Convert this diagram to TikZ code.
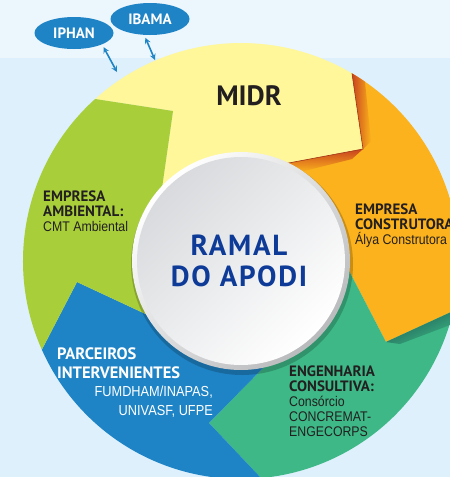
\documentclass[tikz,border=0pt]{standalone}
\usepackage{fontspec}
\setmainfont{Liberation Sans}[FakeStretch=0.88]
\newfontfamily\headfont{PT Sans}
\newfontfamily\hubfont{PT Sans}[LetterSpace=6]
\usepackage{tikz}
\usetikzlibrary{shapes.geometric}

\definecolor{midryellow}{HTML}{FFF799}
\definecolor{construtoraorange}{HTML}{FBB21C}
\definecolor{consultivagreen}{HTML}{3DB886}
\definecolor{parceirosblue}{HTML}{1F84C6}
\definecolor{ambientallime}{HTML}{A8CE3A}
\definecolor{skyband}{HTML}{EBF6FD}
\definecolor{skylow}{HTML}{DDF0FB}
\definecolor{apodiblue}{HTML}{0D3B97}
\definecolor{inktext}{HTML}{231F20}
\definecolor{foldred}{HTML}{C8431F}
\definecolor{folddark}{HTML}{1D5A52}
\definecolor{hubgray}{HTML}{D8DADD}
\definecolor{ringgray}{HTML}{B9BABC}

\tikzset{
  orgellipse/.style={ellipse, fill=parceirosblue, text=white, inner sep=0,
    minimum width=79, minimum height=32,
    font=\headfont\bfseries\fontsize{15}{15}\selectfont},
  biarrow/.style={<->, draw=parceirosblue, line width=1.6},
  segtext/.style={anchor=north west, inner sep=0, align=left, text=inktext,
    font=\fontsize{14}{15}\selectfont},
  segtitle/.style={font=\headfont\bfseries\fontsize{15}{15}\selectfont}
}

\begin{document}
\begin{tikzpicture}[x=1pt, y=-1pt, >=stealth]

      % Define ring parameters
      \def\R{218}
      \def\r{109}

      \useasboundingbox (0,0) rectangle (450,477);
      \clip (0,0) rectangle (450,477);

      % Draw the background
      \fill[skylow] (0,0) rectangle (450,477);
      \fill[skyband] (0,0) rectangle (450,58);

      % Corners of the five arrows
      \coordinate (O) at (241,261);
      \coordinate (Lo) at ([shift={(-132:\R)}]O);
      \coordinate (Yo) at ([shift={(-59.4:\R)}]O);
      \coordinate (Oo) at ([shift={(13.3:\R)}]O);
      \coordinate (To) at ([shift={(84.7:\R)}]O);
      \coordinate (Bo) at ([shift={(156:\R)}]O);
      \coordinate (Lt) at (173,111);
      \coordinate (Li) at (161,195);
      \coordinate (Yt) at (363,149);
      \coordinate (Yi) at (278,165);
      \coordinate (Ot) at (386,342);
      \coordinate (Oi) at (345,263);
      \coordinate (Tt) at (209,423);
      \coordinate (Ti) at (267,364);
      \coordinate (Bt) at (77,282);
      \coordinate (Bi) at (152,317);

      % Draw the arrows
      \fill[midryellow] (Li) -- (Lt) -- (Lo) arc[start angle=-132, end angle=-59.4, radius=\R] -- (Yt) -- (Yi) -- (O) -- cycle;
      \fill[construtoraorange] (Yi) -- (Yt) -- (Yo) arc[start angle=-59.4, end angle=13.3, radius=\R] -- (Ot) -- (Oi) -- (O) -- cycle;
      \fill[consultivagreen] (Oi) -- (Ot) -- (Oo) arc[start angle=13.3, end angle=84.7, radius=\R] -- (Tt) -- (Ti) -- (O) -- cycle;
      \fill[parceirosblue] (Ti) -- (Tt) -- (To) arc[start angle=84.7, end angle=156, radius=\R] -- (Bt) -- (Bi) -- (O) -- cycle;
      \fill[ambientallime] (Bi) -- (Bt) -- (Bo) arc[start angle=156, end angle=228, radius=\R] -- (Lt) -- (Li) -- (O) -- cycle;

      % Fold shadows under the tips
      \begin{scope}
        \clip (O) circle[radius=\R];
        \shade[left color=foldred, right color=construtoraorange] (Yo) -- (Yt) -- (371,141) -- (364,72) -- cycle;
        \shade[top color=foldred, bottom color=construtoraorange] (Yt) -- (Yi) -- (300,172) -- (352,159) -- cycle;
        \draw[foldred!80!black, line width=0.6] (Yo) -- (Yt) -- (Yi);
        \shade[top color=folddark, bottom color=consultivagreen, shading angle=25] (Ot) -- (Oo) -- (458,322) -- (400,344) -- cycle;
      \end{scope}

      % Draw the hub
      \fill[black, opacity=0.2] (242,264) circle[radius=111];
      \shade[top color=white, bottom color=ringgray, shading angle=45] (O) circle[radius=\r];
      \shade[top color=hubgray, bottom color=white, shading angle=45] (O) circle[radius=104];
      \node[text=apodiblue, align=center, font=\hubfont\bfseries\fontsize{29}{31}\selectfont] (ramal) at (239,261) {RAMAL\\DO APODI};

      % Labels of the arrows
      \node[text=inktext, font=\headfont\bfseries\fontsize{28}{28}\selectfont] (midr) at (249,96) {MIDR};
      \node[segtext] (ambiental) at (43,191) {{\headfont\bfseries\fontsize{15}{15}\selectfont EMPRESA}\\{\headfont\bfseries\fontsize{15}{15}\selectfont AMBIENTAL:}\\CMT Ambiental};
      \node[segtext] (construtora) at (355,204) {{\headfont\bfseries\fontsize{15}{15}\selectfont EMPRESA}\\{\headfont\bfseries\fontsize{15}{15}\selectfont CONSTRUTORA}\\Álya Construtora};
      \node[segtext] (engenharia) at (289,366) {{\headfont\bfseries\fontsize{15}{15}\selectfont ENGENHARIA}\\{\headfont\bfseries\fontsize{15}{15}\selectfont CONSULTIVA:}\\Consórcio\\CONCREMAT-\\ENGECORPS};
      \node[segtext, text=white, font=\headfont\bfseries\fontsize{16.5}{19}\selectfont] (parceiros) at (57,348) {PARCEIROS\\INTERVENIENTES};
      \node[segtext, anchor=north east, align=right, text=white, font=\fontsize{14.5}{19}\selectfont] (parceirosnomes) at (213,386) {FUMDHAM/INAPAS,\\UNIVASF, UFPE};

      % Draw the agencies
      \node[orgellipse] (iphan) at (74,33) {IPHAN};
      \node[orgellipse] (ibama) at (150,19) {IBAMA};
      \coordinate (iphanlink) at (117,72);
      \coordinate (ibamalink) at (155,60);
      \draw[biarrow, shorten <=3] (iphan.south east) -- (iphanlink);
      \draw[biarrow, shorten <=3] (ibama.250) -- (ibamalink);

\end{tikzpicture}
\end{document}
